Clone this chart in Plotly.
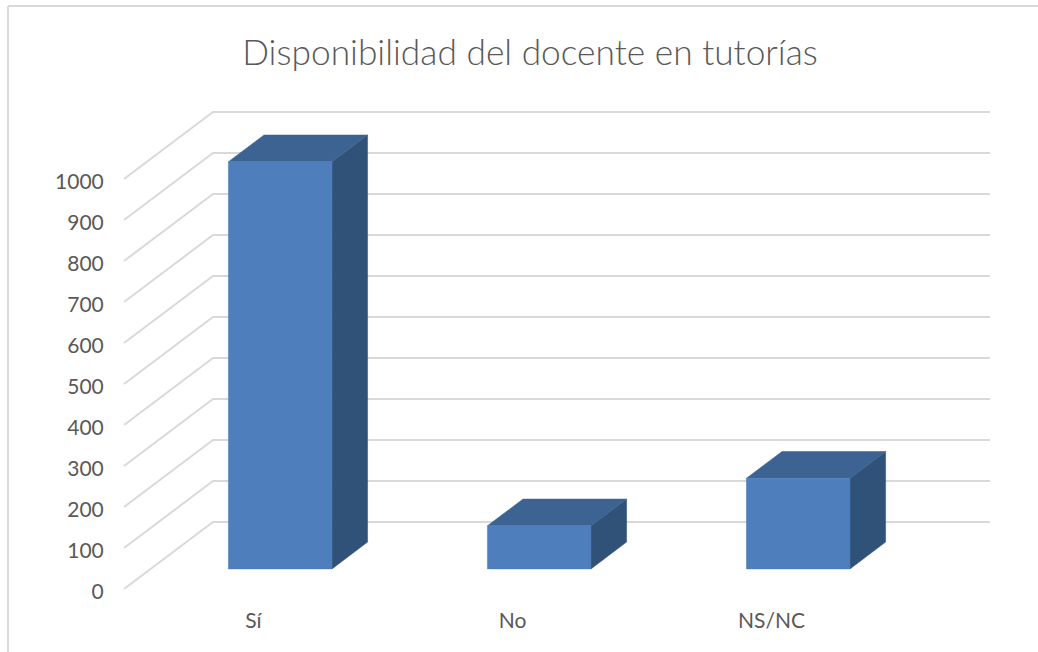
import plotly.graph_objects as go

categories = ['Sí', 'No', 'NS/NC']
values = [993, 105, 221]
y_ticks = [0, 100, 200, 300, 400, 500, 600, 700, 800, 900, 1000]

title_text = 'Disponibilidad del docente en tutorías'

# fake 3D: how far the back wall is shifted from the front plane, in axis units
depth_x = 0.3436
depth_y = 163.4
bar_front = 0.3
bar_back = 0.7
bar_half = 0.2
wall_right = 2.844

color_grid = '#D9D9D9'
color_text = '#595959'
color_front = '#4E7FBC'
color_top = '#3C6392'
color_side = '#305279'

W, H = 1038, 652
left, right, top, bottom = 120, 994, 108, 593


def face(xs, ys, color):
    return go.Scatter(x=xs, y=ys, mode='lines', fill='toself', fillcolor=color,
                      line=dict(color=color, width=0.5), hoverinfo='skip', showlegend=False)


data = []

for tick in y_ticks:
    data.append(go.Scatter(x=[-0.5, -0.5 + depth_x, wall_right],
                           y=[tick, tick + depth_y, tick + depth_y],
                           mode='lines', line=dict(color=color_grid, width=2),
                           hoverinfo='skip', showlegend=False))

for i, value in enumerate(values):
    x0 = i - bar_half + depth_x * bar_front
    x1 = i + bar_half + depth_x * bar_front
    y0 = depth_y * bar_front
    y1 = y0 + value
    dx = depth_x * (bar_back - bar_front)
    dy = depth_y * (bar_back - bar_front)
    data.append(face([x1, x1 + dx, x1 + dx, x1, x1], [y0, y0 + dy, y1 + dy, y1, y0], color_side))
    data.append(face([x0, x0 + dx, x1 + dx, x1, x0], [y1, y1 + dy, y1 + dy, y1, y1], color_top))
    data.append(face([x0, x1, x1, x0, x0], [y0, y0, y1, y1, y0], color_front))

fig = go.Figure(data=data)


def paper_x(px):
    return (px - left) / (right - left)


def paper_y(px):
    return (bottom - px) / (bottom - top)


frame = dict(type='line', xref='paper', yref='paper', line=dict(color=color_grid, width=2))

fig.update_layout(
    width=W, height=H,
    autosize=False,
    margin=dict(l=left, r=W - right, t=top, b=H - bottom, pad=0),
    paper_bgcolor='white',
    plot_bgcolor='white',
    font=dict(family='Lato', color=color_text),
    title=dict(text=title_text, x=530 / W, xanchor='center', xref='container',
               y=1 - 53 / H, yanchor='middle', yref='container',
               font=dict(family='Lato', size=35.3, weight=300, color=color_text)),
    shapes=[
        dict(frame, x0=paper_x(8), x1=paper_x(8), y0=paper_y(6), y1=paper_y(H + 2)),
        dict(frame, x0=paper_x(8), x1=paper_x(W + 2), y0=paper_y(6), y1=paper_y(6)),
    ],
    xaxis=dict(range=[-0.5154, 2.859], tickmode='array', tickvals=[0, 1, 2], ticktext=categories,
               showgrid=False, zeroline=False, showline=False, ticks='outside', ticklen=9,
               tickcolor='rgba(0,0,0,0)', tickfont=dict(family='Lato', size=21, color=color_text)),
    yaxis=dict(range=[-9.76, 1173.2], tickmode='array', tickvals=y_ticks,
               showgrid=False, zeroline=False, showline=False, ticks='outside', ticklen=11,
               ticklabelshift=3,
               tickcolor='rgba(0,0,0,0)', tickfont=dict(family='Lato', size=21, color=color_text)),
)

# body margin would push the figure 8px down and right
fig.write_html('out.html', config={'displayModeBar': False},
               post_script="document.body.style.margin='0';")
